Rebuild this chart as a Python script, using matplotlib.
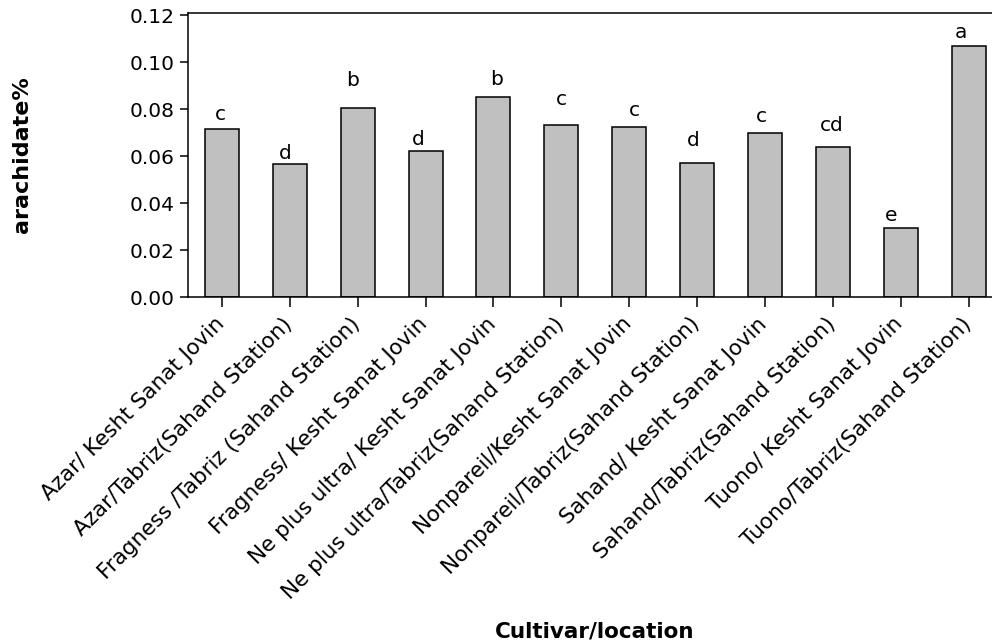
import numpy as np
import matplotlib.pyplot as plt
from matplotlib.transforms import ScaledTranslation

# Arachidate content per cultivar/location with Duncan grouping letters
cultivars = [
    "Azar/ Kesht Sanat Jovin",
    "Azar/Tabriz(Sahand Station)",
    "Fragness /Tabriz (Sahand Station)",
    "Fragness/ Kesht Sanat Jovin",
    "Ne plus ultra/ Kesht Sanat Jovin",
    "Ne plus ultra/Tabriz(Sahand Station)",
    "Nonpareil/Kesht Sanat Jovin",
    "Nonpareil/Tabriz(Sahand Station)",
    "Sahand/ Kesht Sanat Jovin",
    "Sahand/Tabriz(Sahand Station)",
    "Tuono/ Kesht Sanat Jovin",
    "Tuono/Tabriz(Sahand Station)",
]
arachidate = [0.0716, 0.0566, 0.0804, 0.0621, 0.0852, 0.0732,
              0.0723, 0.0572, 0.0699, 0.0637, 0.0292, 0.1067]
groups = ["c", "d", "b", "d", "b", "c", "c", "d", "c", "cd", "e", "a"]

# letter nudges in pixels (dx, dy above bar top)
letter_dx = [-2, -5, -5, -7, 3, 0, 5, -4, -4, -1, -10, -8]
letter_dy = [5, 1, 18, 2, 8, 16, 7, 13, 7, 12, 3, 4]

plt.rcParams['font.family'] = 'DejaVu Sans'

fig = plt.figure(figsize=(9.92, 6.44), dpi=100)
ax = fig.add_axes([0.1895, 0.5388, 0.8212, 0.4415])

x = np.arange(len(cultivars))
ax.bar(x, arachidate, width=0.5, color='#c0c0c0', edgecolor='black', linewidth=1.1)

px = 0.72  # points per pixel at 100 dpi
for xi, v, g, dx, dy in zip(x, arachidate, groups, letter_dx, letter_dy):
    ax.annotate(g, (xi, v), xytext=(dx * px, dy * px), textcoords='offset points',
                ha='center', va='bottom', fontsize=14.5)

ax.set_xlim(-0.5, 11.5)
ax.set_ylim(0, 0.121)
ax.set_yticks(np.arange(0, 0.121, 0.02))
ax.set_yticklabels([f"{t:.2f}" for t in np.arange(0, 0.121, 0.02)])
ax.set_xticks(x)
ax.set_xticklabels(cultivars, rotation=45, ha='right', rotation_mode='anchor', fontsize=15.5)
ax.tick_params(axis='y', labelsize=14.5, direction='out', length=6, width=1.1)
ax.tick_params(axis='x', direction='out', length=7, width=1.1, pad=5)

# nudge rotated labels a little left of their ticks
shift = ScaledTranslation(-0.08, 0.0, fig.dpi_scale_trans)
for lbl in ax.get_xticklabels():
    lbl.set_transform(lbl.get_transform() + shift)

for s in ax.spines.values():
    s.set_linewidth(1.1)

fig.text(0.599, 0.019, "Cultivar/location", ha='center', va='center',
         fontsize=15.5, fontweight='bold')
fig.text(0.022, 0.76, "arachidate%", ha='center', va='center', rotation=90,
         fontsize=16, fontweight='bold')

fig.savefig('out.png', dpi=100)
